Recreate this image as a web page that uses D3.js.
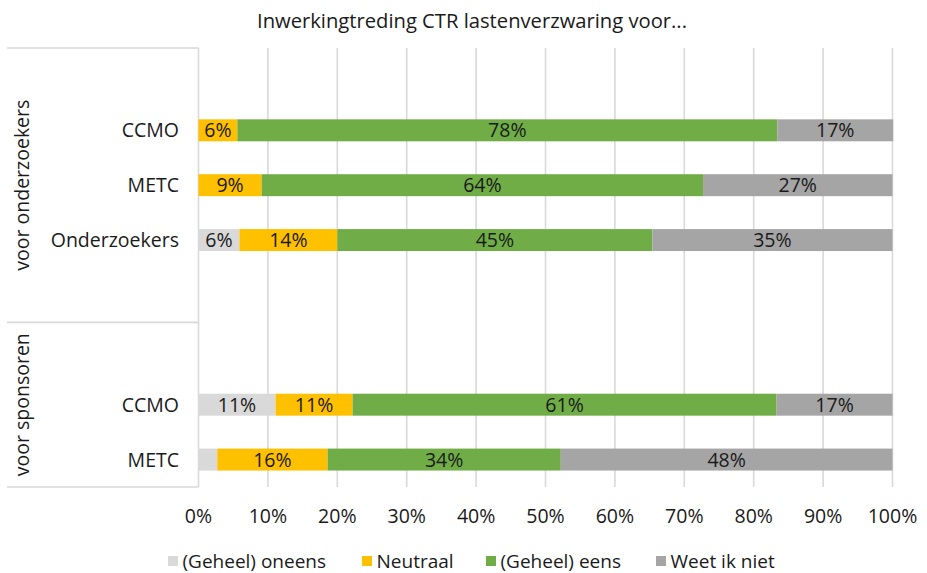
<!DOCTYPE html>
<html><head><meta charset="utf-8">
<script src="https://cdn.jsdelivr.net/npm/d3@7"></script>
<style>body{margin:0;background:#fff;} text{font-family:"Open Sans",sans-serif;}</style>
</head><body><svg id="c" width="927" height="573"></svg>
<script>
const title = "Inwerkingtreding CTR lastenverzwaring voor...";
const groups = ["voor onderzoekers", "voor sponsoren"];
const slotLabels = ["", "CCMO", "METC", "Onderzoekers", "", "", "CCMO", "METC"];
const slotGroup = [0, 0, 0, 0, 0, 1, 1, 1];
const seriesNames = ["(Geheel) oneens", "Neutraal", "(Geheel) eens", "Weet ik niet"];
const seriesColors = ["#d9d9d9", "#ffc000", "#70ad47", "#a5a5a5"];
const oneens   = [null, 0,    0,    5.9,  null, null, 11.1, 2.7];
const neutraal = [null, 5.6,  9.1,  14.1, null, null, 11.1, 15.9];
const eens     = [null, 77.8, 63.6, 45.4, null, null, 61.1, 33.6];
const weet     = [null, 16.7, 27.3, 34.6, null, null, 16.7, 47.8];
const xTicks = [0,10,20,30,40,50,60,70,80,90,100];

const series = [oneens, neutraal, eens, weet];
const svg = d3.select("#c");
const L = 198.5, R = 892.5, T = 48, B = 487;
const x = d3.scaleLinear().domain([0,100]).range([L,R]);
const y = d3.scaleBand().domain(d3.range(slotLabels.length)).range([T,B]).paddingInner(0.6).paddingOuter(0.3);
const font = 19.5;
const ink = "#1a1a1a";

// title
svg.append("text").attr("x",472).attr("y",28).attr("text-anchor","middle")
  .attr("font-size",20.2).attr("fill",ink).text(title);

// gridlines
svg.append("g").selectAll("line").data(xTicks).join("line")
  .attr("x1",d=>x(d)).attr("x2",d=>x(d)).attr("y1",T).attr("y2",B)
  .attr("stroke","#d9d9d9").attr("stroke-width",1.6);

// category axis group boundaries
const step = y.step();
const groupBounds = [T];
for (let i=1;i<slotGroup.length;i++) if (slotGroup[i]!==slotGroup[i-1]) groupBounds.push(y(i) - (step - y.bandwidth())/2);
groupBounds.push(B);
svg.append("g").selectAll("line").data(groupBounds).join("line")
  .attr("x1",7).attr("x2",L).attr("y1",d=>d).attr("y2",d=>d)
  .attr("stroke","#d9d9d9").attr("stroke-width",1.6);

// group labels
groups.forEach((g,gi)=>{
  const y0 = groupBounds[gi], y1 = groupBounds[gi+1];
  svg.append("text").attr("transform",`translate(29,${(y0+y1)/2}) rotate(-90)`)
    .attr("text-anchor","middle").attr("font-size",font).attr("fill",ink).text(g);
});

// category labels
svg.append("g").selectAll("text").data(slotLabels.map((l,i)=>({l,i})).filter(d=>d.l)).join("text")
  .attr("x",179).attr("y",d=>y(d.i)+y.bandwidth()/2).attr("dy","0.36em")
  .attr("text-anchor","end").attr("font-size",font).attr("fill",ink).text(d=>d.l);

// stacked bars
const stackData = slotLabels.map((l,i)=>{ const o={i}; seriesNames.forEach((s,k)=>o[s]=series[k][i]||0); o.empty = series[0][i]===null; return o; }).filter(d=>!d.empty);
const stack = d3.stack().keys(seriesNames)(stackData);
stack.forEach((layer,k)=>{
  const g = svg.append("g");
  g.selectAll("rect").data(layer.filter(d=>d[1]-d[0]>0)).join("rect")
    .attr("x",d=>x(d[0])).attr("width",d=>x(d[1])-x(d[0]))
    .attr("y",d=>y(d.data.i)).attr("height",y.bandwidth())
    .attr("fill",seriesColors[k]);
  g.selectAll("text").data(layer.filter(d=>d[1]-d[0]>=4)).join("text")
    .attr("x",d=>(x(d[0])+x(d[1]))/2).attr("y",d=>y(d.data.i)+y.bandwidth()/2).attr("dy","0.36em")
    .attr("text-anchor","middle").attr("font-size",font).attr("fill",ink)
    .text(d=>Math.round(d[1]-d[0])+"%");
});

// x axis labels
svg.append("g").selectAll("text").data(xTicks).join("text")
  .attr("x",d=>x(d)).attr("y",516).attr("dy","0.36em").attr("text-anchor","middle")
  .attr("font-size",font).attr("fill",ink).text(d=>d+"%");

// legend
const legX = [168, 362, 486, 656];
seriesNames.forEach((s,k)=>{
  svg.append("rect").attr("x",legX[k]).attr("y",556).attr("width",10).attr("height",10).attr("fill",seriesColors[k]);
  svg.append("text").attr("x",legX[k]+14.5).attr("y",561).attr("dy","0.36em")
    .attr("font-size",19).attr("fill",ink).text(s);
});
</script></body></html>
